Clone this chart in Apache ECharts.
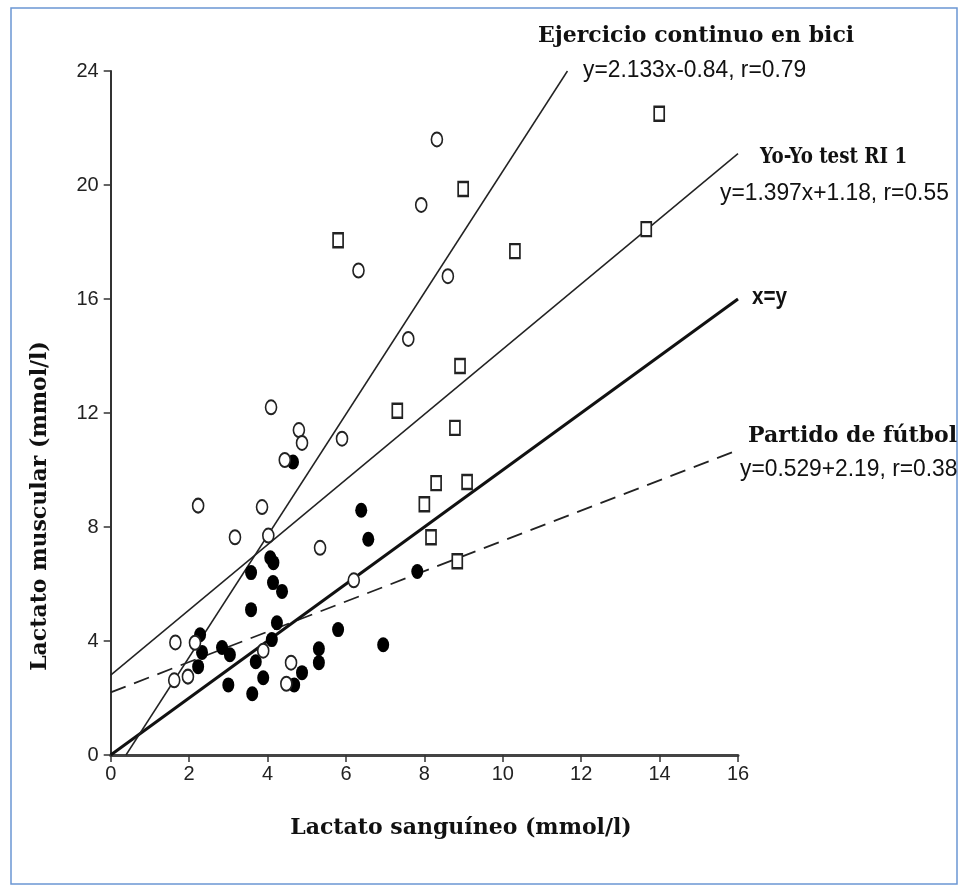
<!DOCTYPE html>
<html>
<head>
<meta charset="utf-8">
<title>Lactato muscular vs sanguíneo</title>
<script src="https://cdn.jsdelivr.net/npm/echarts@6/dist/echarts.min.js"></script>
<style>
  html, body { margin: 0; padding: 0; background: #fff; }
  #chart { width: 967px; height: 892px; }
</style>
</head>
<body>
<div id="chart"></div>
<script>
// valores (mmol/l): [sanguíneo, muscular]
const bici = [
  [8.32, 21.6], [7.92, 19.3], [6.32, 17.0], [8.6, 16.8], [7.59, 14.6],
  [4.09, 12.2], [4.8, 11.4], [4.88, 10.95], [5.9, 11.1], [4.44, 10.35],
  [2.23, 8.75], [3.86, 8.7], [3.17, 7.64], [4.02, 7.7], [5.34, 7.27],
  [6.2, 6.13], [1.65, 3.95], [2.15, 3.94], [1.62, 2.62], [1.97, 2.75],
  [3.89, 3.66], [4.6, 3.24], [4.48, 2.5]
]
const futbol = [
  [4.65, 10.28], [6.39, 8.59], [6.57, 7.57], [4.07, 6.92], [4.15, 6.75],
  [3.58, 6.4], [4.14, 6.05], [4.37, 5.74], [3.58, 5.1], [4.24, 4.64],
  [5.8, 4.4], [6.95, 3.87], [2.28, 4.22], [2.33, 3.6], [2.23, 3.1],
  [2.84, 3.77], [3.04, 3.52], [3.7, 3.27], [4.11, 4.05], [5.31, 3.73],
  [5.31, 3.24], [3.0, 2.46], [3.89, 2.71], [3.61, 2.15], [4.68, 2.46],
  [4.88, 2.89], [7.82, 6.44]
]
const yoyo = [
  [5.8, 18.06], [13.99, 22.5], [8.99, 19.86], [10.31, 17.68], [13.66, 18.45],
  [8.91, 13.65], [7.31, 12.08], [8.78, 11.48], [8.3, 9.54], [9.09, 9.58],
  [8.0, 8.8], [8.17, 7.64], [8.84, 6.8]
]

// rectas de regresión (extremos)
const lineaBici = [[0.39, 0], [11.65, 24]]
const lineaYoyo = [[0, 2.8], [16, 21.1]]
const lineaIdentidad = [[0, 0], [16, 16]]
const lineaFutbol = [[0, 2.2], [16, 10.7]]

const xTicks = [0, 2, 4, 6, 8, 10, 12, 14, 16]
const yTicks = [0, 4, 8, 12, 16, 20, 24]

const chart = echarts.init(document.getElementById('chart'))

const serif = '"DejaVu Serif", serif'
const sans = '"Liberation Sans", Arial, sans-serif'

// texto suelto; sx comprime en horizontal (la fuente original es estrecha)
function label(text, x, y, font, size, weight, sx, extra) {
  return Object.assign({
    type: 'text',
    x: x,
    y: y,
    scaleX: sx || 1,
    style: {
      text: text,
      font: (weight || 'normal') + ' ' + size + 'px ' + font,
      fill: '#111',
      align: 'left',
      verticalAlign: 'middle'
    },
    silent: true
  }, extra || {})
}

chart.setOption({
  animation: false,
  backgroundColor: '#fff',
  grid: { left: 110.7, right: 229, top: 71, bottom: 137 },
  xAxis: {
    type: 'value',
    min: 0,
    max: 16,
    interval: 2,
    axisLine: { onZero: false, lineStyle: { color: '#444', width: 3 } },
    axisTick: { show: true, length: 7, lineStyle: { color: '#333', width: 1.5 } },
    axisLabel: {
      margin: 9,
      fontFamily: sans,
      fontSize: 20,
      color: '#222',
      formatter: v => xTicks.includes(v) ? String(v) : ''
    },
    splitLine: { show: false }
  },
  yAxis: {
    type: 'value',
    min: 0,
    max: 24,
    interval: 4,
    axisLine: { onZero: false, lineStyle: { color: '#333', width: 2 } },
    axisTick: { show: true, length: 7, lineStyle: { color: '#333', width: 1.5 } },
    axisLabel: {
      margin: 12,
      fontFamily: sans,
      fontSize: 20,
      color: '#222',
      formatter: v => yTicks.includes(v) ? String(v) : ''
    },
    splitLine: { show: false }
  },
  series: [
    {
      name: 'Partido de fútbol (recta)',
      type: 'line',
      data: lineaFutbol,
      symbol: 'none',
      lineStyle: { color: '#222', width: 1.8, type: [16, 9] },
      z: 1
    },
    {
      name: 'x=y',
      type: 'line',
      data: lineaIdentidad,
      symbol: 'none',
      lineStyle: { color: '#111', width: 3 },
      z: 1
    },
    {
      name: 'Yo-Yo test RI 1 (recta)',
      type: 'line',
      data: lineaYoyo,
      symbol: 'none',
      lineStyle: { color: '#222', width: 1.5 },
      z: 1
    },
    {
      name: 'Ejercicio continuo en bici (recta)',
      type: 'line',
      data: lineaBici,
      symbol: 'none',
      lineStyle: { color: '#222', width: 1.5 },
      z: 1
    },
    {
      name: 'Partido de fútbol',
      type: 'scatter',
      data: futbol,
      symbol: 'circle',
      symbolSize: [12, 15],
      itemStyle: { color: '#000', opacity: 1 },
      z: 3
    },
    {
      name: 'Ejercicio continuo en bici',
      type: 'scatter',
      data: bici,
      symbol: 'circle',
      symbolSize: [11, 14],
      itemStyle: { color: '#fff', borderColor: '#222', borderWidth: 1.8, opacity: 1 },
      z: 3
    },
    {
      name: 'Yo-Yo test RI 1',
      type: 'scatter',
      data: yoyo,
      symbol: 'rect',
      symbolSize: [10, 14],
      itemStyle: { color: '#fff', borderColor: '#222', borderWidth: 2, opacity: 1 },
      z: 3
    }
  ],
  graphic: [
    {
      type: 'rect',
      shape: { x: 11, y: 8, width: 946, height: 876 },
      style: { fill: 'none', stroke: '#6b97d3', lineWidth: 1.5 },
      silent: true
    },
    label('Ejercicio continuo en bici', 538, 36, serif, 22, 'bold'),
    label('y=2.133x-0.84, r=0.79', 583, 70, sans, 24, 'normal', 0.95),
    label('Yo-Yo test RI 1', 760, 157, serif, 22, 'bold', 0.83),
    label('y=1.397x+1.18, r=0.55', 720, 193, sans, 24, 'normal', 0.95),
    label('x=y', 752, 298, sans, 23, 'bold', 0.9),
    label('Partido de fútbol', 748, 436, serif, 22, 'bold'),
    label('y=0.529+2.19, r=0.38', 740, 469, sans, 24, 'normal', 0.95),
    // títulos de los ejes
    label('Lactato sanguíneo (mmol/l)', 461, 828, serif, 22, 'bold', 1,
      { style: { text: 'Lactato sanguíneo (mmol/l)', font: 'bold 22px ' + serif, fill: '#111', align: 'center', verticalAlign: 'middle' } }),
    label('Lactato muscular (mmol/l)', 40, 506, serif, 22, 'bold', 1,
      { rotation: Math.PI / 2, style: { text: 'Lactato muscular (mmol/l)', font: 'bold 22px ' + serif, fill: '#111', align: 'center', verticalAlign: 'middle' } })
  ]
})
</script>
</body>
</html>
